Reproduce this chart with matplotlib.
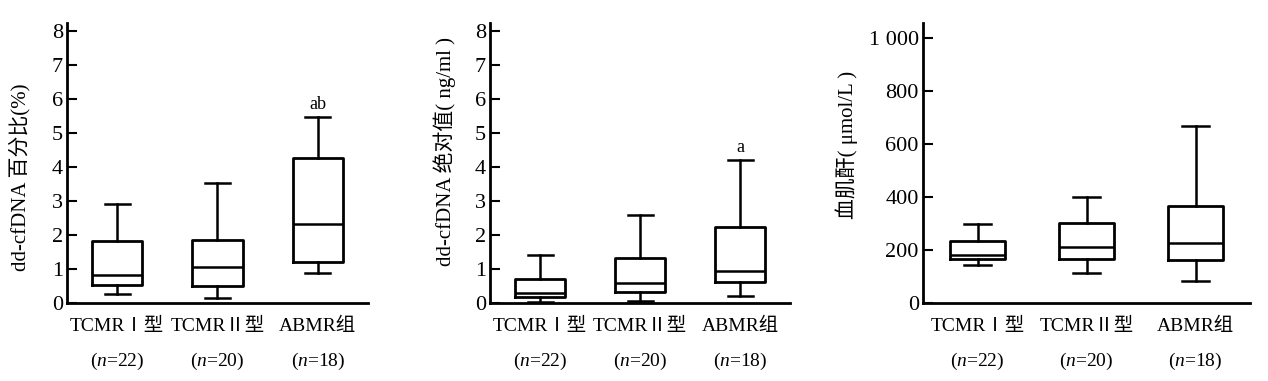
import matplotlib
matplotlib.use("Agg")
import matplotlib.pyplot as plt

plt.rcParams["font.family"] = ["Liberation Serif", "Noto Sans CJK SC"]
plt.rcParams["mathtext.fontset"] = "custom"
plt.rcParams["mathtext.it"] = "Liberation Serif:italic"
plt.rcParams["mathtext.rm"] = "Liberation Serif"

GROUPS = ["TCMRⅠ型", "TCMRⅡ型", "ABMR组"]
COUNTS = ["22", "20", "18"]

# dd-cfDNA percentage (%)
PCT_LOW = [0.26, 0.14, 0.89]
PCT_Q1 = [0.53, 0.51, 1.21]
PCT_MED = [0.82, 1.07, 2.32]
PCT_Q3 = [1.83, 1.85, 4.26]
PCT_HIGH = [2.90, 3.52, 5.48]

# dd-cfDNA absolute (ng/ml)
ABS_LOW = [0.04, 0.06, 0.21]
ABS_Q1 = [0.19, 0.31, 0.61]
ABS_MED = [0.30, 0.60, 0.94]
ABS_Q3 = [0.71, 1.31, 2.24]
ABS_HIGH = [1.41, 2.59, 4.21]

# serum creatinine (umol/L)
CR_LOW = [142, 114, 82]
CR_Q1 = [165, 165, 162]
CR_MED = [180, 213, 226]
CR_Q3 = [234, 302, 365]
CR_HIGH = [298, 402, 670]

PCT_MARKS = ["", "", "ab"]
ABS_MARKS = ["", "", "a"]


def make_stats(low, q1, med, q3, high):
    return [
        {"whislo": a, "q1": b, "med": c, "q3": d, "whishi": e, "fliers": []}
        for a, b, c, d, e in zip(low, q1, med, q3, high)
    ]


def draw_panel(ax, stats, ylim, yticks, yticklabels, ylabel, label_xy, marks=None, mark_offset=0.0):
    ax.bxp(
        stats,
        positions=[1, 2, 3],
        widths=0.5,
        showfliers=False,
        boxprops=dict(linewidth=2.0, color="black"),
        whiskerprops=dict(linewidth=1.8, color="black"),
        capprops=dict(linewidth=1.8, color="black"),
        medianprops=dict(linewidth=1.8, color="black"),
        capwidths=0.25,
    )
    ax.set_xlim(0.5, 3.5)
    ax.set_ylim(*ylim)
    ax.set_yticks(yticks)
    ax.set_yticklabels(yticklabels, fontsize=16)
    ax.set_xticks([])
    for side in ["top", "right"]:
        ax.spines[side].set_visible(False)
    for side in ["left", "bottom"]:
        ax.spines[side].set_linewidth(2.0)
    ax.tick_params(axis="y", direction="in", length=7, width=1.5, pad=3)
    ax.set_ylabel(ylabel, fontsize=15)
    ax.yaxis.set_label_coords(*label_xy)
    trans = ax.get_xaxis_transform()
    for i, (g, n) in enumerate(zip(GROUPS, COUNTS)):
        ax.text(i + 1, -0.085, g, transform=trans, ha="center", va="center", fontsize=14)
        ax.text(i + 1, -0.21, "($\\it{n}$=" + n + ")", transform=trans,
                ha="center", va="center", fontsize=14)
    if marks:
        for i, m in enumerate(marks):
            if m:
                ax.text(i + 1, stats[i]["whishi"] + mark_offset, m,
                        ha="center", va="bottom", fontsize=13)


fig = plt.figure(figsize=(12.68, 3.81), dpi=100)
ax1 = fig.add_axes([67 / 1268, 78 / 381, 301 / 1268, 280 / 381])
ax2 = fig.add_axes([490 / 1268, 78 / 381, 300 / 1268, 280 / 381])
ax3 = fig.add_axes([923 / 1268, 78 / 381, 327 / 1268, 280 / 381])

draw_panel(ax1, make_stats(PCT_LOW, PCT_Q1, PCT_MED, PCT_Q3, PCT_HIGH),
           (0, 8.24), range(9), [str(v) for v in range(9)],
           "dd-cfDNA 百分比(%)", (-0.12, 0.45), PCT_MARKS, 0.12)
draw_panel(ax2, make_stats(ABS_LOW, ABS_Q1, ABS_MED, ABS_Q3, ABS_HIGH),
           (0, 8.24), range(9), [str(v) for v in range(9)],
           "dd-cfDNA 绝对值( ng/ml )", (-0.115, 0.54), ABS_MARKS, 0.12)
draw_panel(ax3, make_stats(CR_LOW, CR_Q1, CR_MED, CR_Q3, CR_HIGH),
           (0, 1058), [0, 200, 400, 600, 800, 1000],
           ["0", "200", "400", "600", "800", "1 000"],
           "血肌酐( μmol/L )", (-0.2, 0.565))

fig.savefig("out.png", dpi=100)
